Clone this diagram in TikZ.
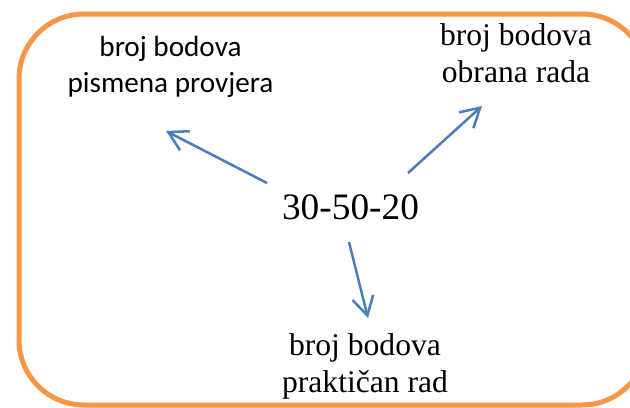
\documentclass[tikz,border=0pt]{standalone}
\usepackage{fontspec}
\setmainfont{Liberation Serif}
\newfontfamily\calibrifont{Carlito}
\usetikzlibrary{arrows.meta}
\definecolor{frameorange}{HTML}{F79646}
\definecolor{arrowblue}{HTML}{4A7EBB}

\begin{document}
\begin{tikzpicture}[x=0.75pt,y=-0.75pt,
    frame/.style={draw=frameorange,line width=3.75pt,rounded corners=48.75pt},
    seriflabel/.style={align=center,inner sep=0pt,anchor=base,font=\fontsize{23.7}{27.75}\selectfont},
    sanslabel/.style={align=center,inner sep=0pt,anchor=base,font=\calibrifont\fontsize{21.9}{27}\selectfont},
    scorearrow/.style={draw=arrowblue,line width=1.9pt,-{Straight Barb[length=14pt,width=16pt]}}]
    \useasboundingbox (0,0) rectangle (630,407);
    \clip (0,0) rectangle (630,407);

    % Drawing the frame
    \draw [frame] (19,14) rectangle (647,405);%

    % Marking the score split
    \node [seriflabel,font=\fontsize{28}{33}\selectfont] (split) at (350.5,219) {30-50-20};%

    % Marking the three parts (base = last line)
    \node [sanslabel] (pismena) at (170.5,92) {broj bodova\\pismena provjera};%
    \node [seriflabel] (obrana) at (516,82) {broj bodova\\obrana rada};%
    \node [seriflabel] (prakticni) at (365,392) {broj bodova\\praktičan rad};%

    % Arrow ends
    \coordinate (pismenaTail) at (267,183);
    \coordinate (pismenaTip) at (166,131);
    \coordinate (obranaTail) at (408,173);
    \coordinate (obranaTip) at (482,106);
    \coordinate (prakticniTail) at (349,242);
    \coordinate (prakticniTip) at (368,318);

    % Drawing the arrows
    \draw [scorearrow] (pismenaTail) -- (pismenaTip);%
    \draw [scorearrow] (obranaTail) -- (obranaTip);%
    \draw [scorearrow] (prakticniTail) -- (prakticniTip);%
\end{tikzpicture}
\end{document}
